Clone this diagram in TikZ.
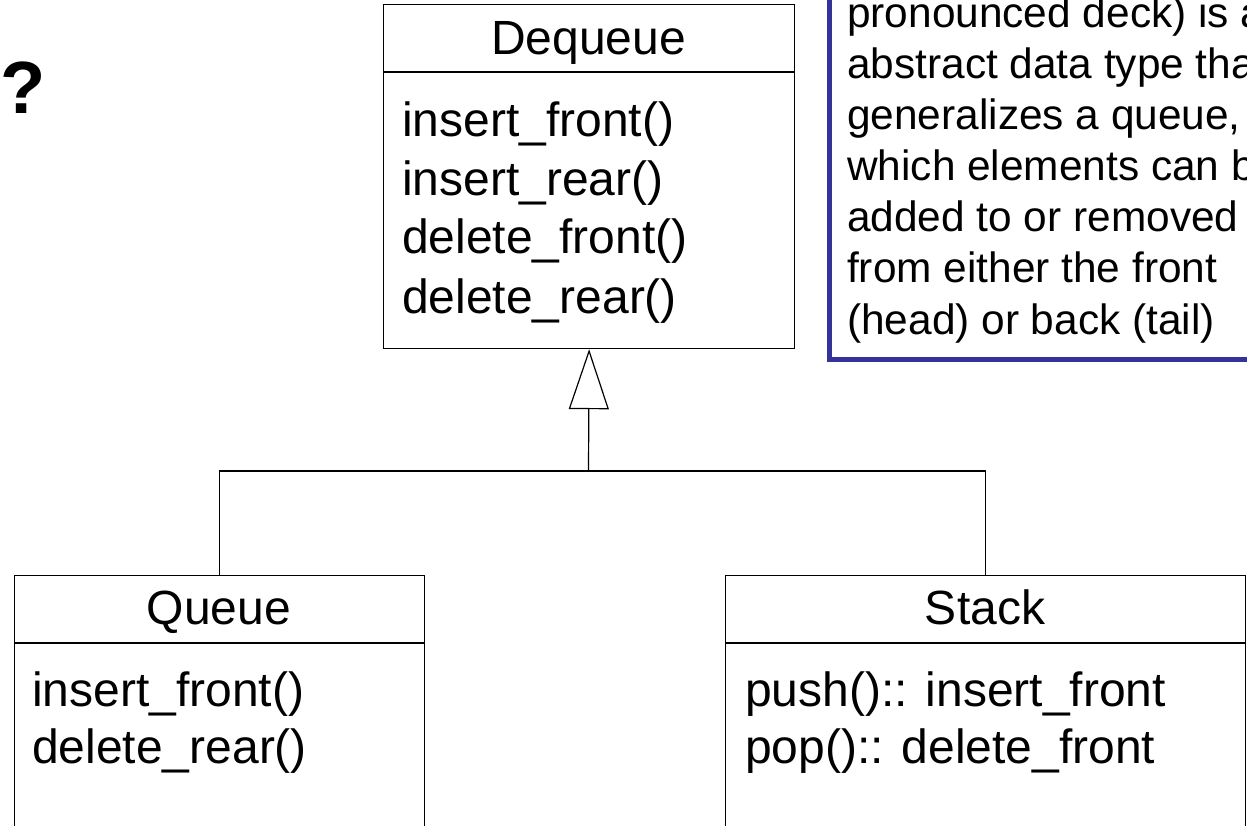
\documentclass[tikz,border=0pt]{standalone}
\usepackage{fontspec}
\setmainfont{Liberation Sans}
\usetikzlibrary{arrows.meta}
\definecolor{noteblue}{HTML}{333399}
\begin{document}
\begin{tikzpicture}[x=1pt,y=-1pt,
  classbox/.style={draw=black, line width=1.2pt, fill=white, rectangle,
    inner sep=0pt, anchor=north west},
  divider/.style={draw=black, line width=1.2pt},
  member/.style={anchor=base west, inner sep=0pt, font=\fontsize{48}{58}\selectfont},
  classname/.style={anchor=base, inner sep=0pt, font=\fontsize{48}{58}\selectfont},
  notebox/.style={draw=noteblue, line width=4.5pt, fill=white, rectangle,
    inner sep=0pt, anchor=north west},
  notetext/.style={anchor=base west, inner sep=0pt, font=\fontsize{42.4}{51}\selectfont},
  link/.style={draw=black, line width=1.2pt},
  generalization/.style={link, -{Triangle[open, length=60pt, width=40pt, fill=white]}}
]
\useasboundingbox (0,0) rectangle (1247,826);
\clip (0,0) rectangle (1247,826);

% question mark
\node[anchor=base west, inner sep=0pt, font=\fontsize{74}{80}\selectfont\bfseries] (qmark) at (0,114) {?};

% explanatory note (runs past the page edge)
\node[notebox, minimum width=460pt, minimum height=380pt] (note) at (827,-23) {};
\foreach \txt [count=\i] in {pronounced deck) is a, abstract data type tha,
    {generalizes a queue,}, which elements can b, added to or removed,
    from either the front, (head) or back (tail)} {
  \node[notetext] (note\i) at (847,{28+51*(\i-1)}) {\txt};
}

% Dequeue class
\node[classbox, minimum width=411pt, minimum height=344pt] (deq) at (383,4) {};
\draw[divider] (383,72) -- (794,72);
\node[classname] (deqname) at (588.5,55) {Dequeue};
\node[member] (deqm1) at (402,137) {insert\_front()};
\node[member] (deqm2) at (402,196) {insert\_rear()};
\node[member] (deqm3) at (402,254) {delete\_front()};
\node[member] (deqm4) at (402,313) {delete\_rear()};

% Queue class
\node[classbox, minimum width=410pt, minimum height=320pt] (queue) at (14,575) {};
\draw[divider] (14,643) -- (424,643);
\node[classname] (queuename) at (219,624) {Queue};
\node[member] (queuem1) at (32,706) {insert\_front()};
\node[member] (queuem2) at (32,763) {delete\_rear()};

% Stack class
\node[classbox, minimum width=520pt, minimum height=320pt] (stack) at (725,575) {};
\draw[divider] (725,643) -- (1245,643);
\node[classname] (stackname) at (985,624) {Stack};
\node[member] (stackm1) at (745,706) {push():: insert\_front};
\node[member] (stackm2) at (745,763) {pop():: delete\_front};

% generalization tree
\coordinate (join) at (588.5,471);
\draw[link] (queue.north) |- (join) -| (stack.north);
\draw[generalization] (join) -- (deq.south);
\end{tikzpicture}
\end{document}
